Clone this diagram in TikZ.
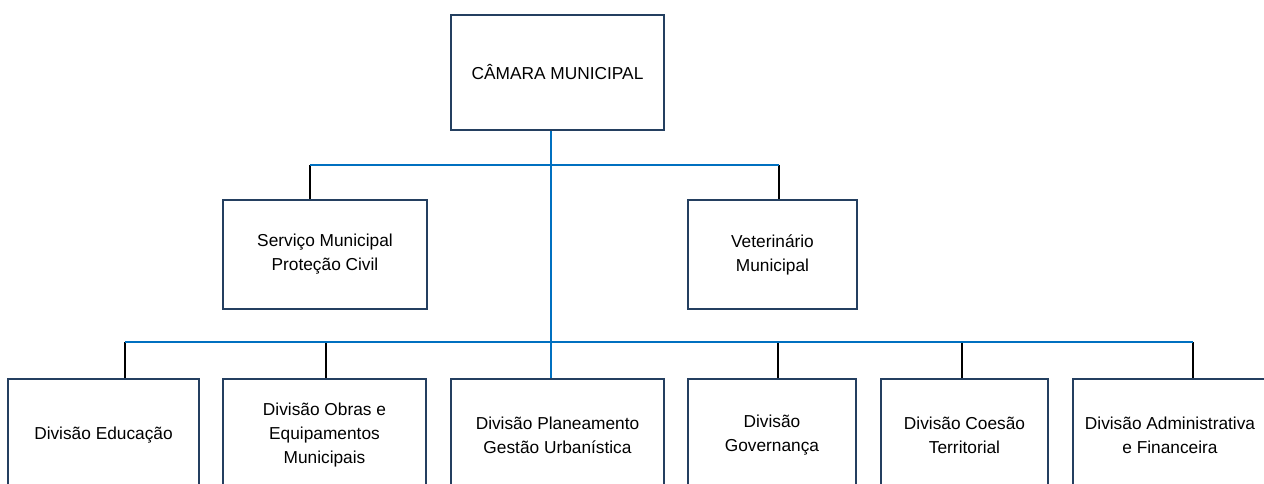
\documentclass[tikz,border=0pt]{standalone}
\usepackage{fontspec}
\setmainfont{Liberation Sans}
\usepackage{xcolor}
\usepackage{tikz}
\usetikzlibrary{calc}

\definecolor{boxnavy}{HTML}{243F60}
\definecolor{linkblue}{HTML}{0070C0}

\begin{document}
\begin{tikzpicture}[x=1pt,y=-1pt]
        % Styles for the boxes and the connecting lines
        \tikzstyle{unit}=[draw=boxnavy, line width=2.4pt, align=center, inner sep=0pt, font=\fontsize{17.3}{24}\selectfont];
        \tikzstyle{blueline}=[draw=linkblue, line width=2pt];
        \tikzstyle{tick}=[draw=black, line width=1.8pt];

        % Page frame (the lower boxes run off the edge)
        \clip (0,0) rectangle (1264,484);

        % Top box
        \node[unit, minimum width=213, minimum height=115] (camara) at (557.5,72.5) {CÂMARA MUNICIPAL};

        % Middle row
        \node[unit, minimum width=204, minimum height=109] (servico) at (325,254.5) {Serviço Municipal\\Proteção Civil};
        \node[unit, minimum width=169, minimum height=109] (veterinario) at (772.5,254.5) {Veterinário\\Municipal};

        % Bottom row of divisions
        \node[unit, minimum width=191, minimum height=112] (educacao) at (103.5,435) {Divisão Educação};
        \node[unit, minimum width=203, minimum height=112] (obras) at (324.5,435) {Divisão Obras e\\Equipamentos\\Municipais};
        \node[unit, minimum width=213, minimum height=112] (planeamento) at (557.5,435) {Divisão Planeamento\\Gestão Urbanística};
        \node[unit, minimum width=168, minimum height=112] (governanca) at (772,435) {Divisão\\Governança};
        \node[unit, minimum width=167, minimum height=112] (coesao) at (964.5,435) {Divisão Coesão\\Territorial};
        \node[unit, minimum width=194, minimum height=112] (admin) at (1170,435) {Divisão Administrativa\\e Financeira};

        % Branch points on the two horizontal lines
        \coordinate (s1) at (310,165);
        \coordinate (s2) at (779,165);
        \coordinate (d1) at (125,342);
        \coordinate (d2) at (326,342);
        \coordinate (d4) at (778,342);
        \coordinate (d5) at (962,342);
        \coordinate (d6) at (1193,342);
        \coordinate (trunk) at (551,0);

        % Short black drops into the boxes
        \draw[tick] (s1) -- (s1 |- servico.north);
        \draw[tick] (s2) -- (s2 |- veterinario.north);
        \draw[tick] (d1) -- (d1 |- educacao.north);
        \draw[tick] (d2) -- (d2 |- obras.north);
        \draw[tick] (d4) -- (d4 |- governanca.north);
        \draw[tick] (d5) -- (d5 |- coesao.north);
        \draw[tick] (d6) -- (d6 |- admin.north);

        % Blue lines
        \draw[blueline] (s1) -- (s2);
        \draw[blueline] (d1) -- (d6);
        \draw[blueline] (trunk |- camara.south) -- (trunk |- planeamento.north);

    \end{tikzpicture}
\end{document}
